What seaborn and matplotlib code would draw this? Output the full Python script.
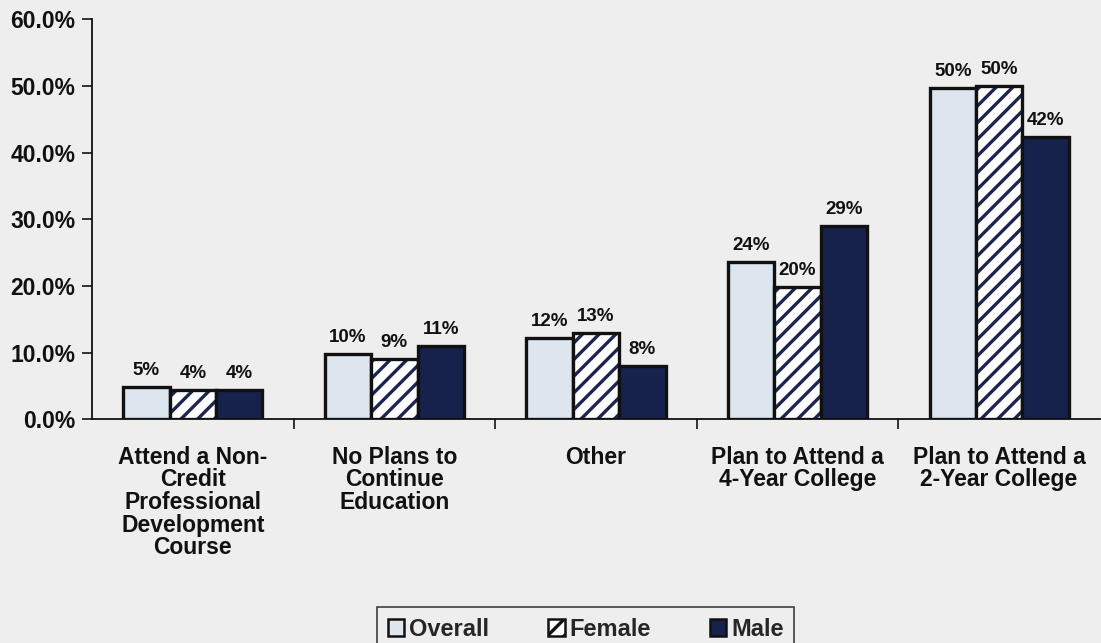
import matplotlib
matplotlib.use("Agg")
import matplotlib.pyplot as plt
import matplotlib.patches as mpatches
import matplotlib.colors as mcolors
from matplotlib.ticker import FuncFormatter, FixedLocator
import seaborn as sns
import pandas as pd

categories = ["Attend a Non-\nCredit\nProfessional\nDevelopment\nCourse",
              "No Plans to\nContinue\nEducation",
              "Other",
              "Plan to Attend a\n4-Year College",
              "Plan to Attend a\n2-Year College"]
series = ["Overall", "Female", "Male"]
overall = [4.8, 9.8, 12.2, 23.6, 49.7]
female = [4.4, 9.0, 12.9, 19.8, 50.0]
male = [4.4, 11.0, 8.0, 29.0, 42.3]
yticks = [0, 10, 20, 30, 40, 50, 60]

rows = []
for s, vals in zip(series, [overall, female, male]):
    for c, v in zip(categories, vals):
        rows.append({"cat": c, "series": s, "val": v})
df = pd.DataFrame(rows)

sns.set_theme(style="white")
plt.rcParams["font.family"] = ["Liberation Sans", "DejaVu Sans"]
plt.rcParams["font.weight"] = "bold"
plt.rcParams["hatch.linewidth"] = 2.4

navy = "#1b2550"
bg = "#eeeeee"
colors = {"Overall": "#dde6ef", "Female": "#ffffff", "Male": "#16224b"}

fig = plt.figure(figsize=(11.01, 6.43), dpi=100, facecolor=bg)
ax = fig.add_axes([0.0836, 0.348, 0.9154, 0.622])
ax.set_facecolor(bg)

sns.barplot(data=df, x="cat", y="val", hue="series", hue_order=series,
            palette=colors, width=0.69, ax=ax, legend=False,
            edgecolor="#111111", linewidth=2.4, saturation=1)

for cont, s in zip(ax.containers, series):
    for p in cont:
        if s == "Female":
            p.set_hatch("//")
            p._hatch_color = mcolors.to_rgba(navy)
    ax.bar_label(cont, labels=[f"{v:.0f}%" for v in cont.datavalues],
                 padding=6, fontsize=13.5, fontweight="bold", color="#111111")

ax.set_xlim(-0.5, 4.5)
ax.set_ylim(0, 60)
ax.set_yticks(yticks)
ax.yaxis.set_major_formatter(FuncFormatter(lambda v, p: f"{v:.1f}%"))
ax.set_xlabel("")
ax.set_ylabel("")
for sp in ["top", "right"]:
    ax.spines[sp].set_visible(False)
for sp in ["left", "bottom"]:
    ax.spines[sp].set_color("#111111")
    ax.spines[sp].set_linewidth(1.3)

ax.tick_params(axis="y", which="major", left=True, length=7, width=1.2,
               color="#111111", labelsize=16.5, labelcolor="#111111", pad=5)
ax.tick_params(axis="x", which="major", bottom=False, labelsize=16.5,
               labelcolor="#111111", pad=13)
ax.xaxis.set_minor_locator(FixedLocator([0.5, 1.5, 2.5, 3.5]))
ax.tick_params(axis="x", which="minor", bottom=True, length=7, width=1.2,
               color="#111111", direction="out")
for lab in ax.get_xticklabels() + ax.get_yticklabels():
    lab.set_fontweight("bold")
for lab in ax.get_xticklabels():
    lab.set_verticalalignment("top")
    lab.set_linespacing(0.98)

handles = []
for s in series:
    h = mpatches.Patch(facecolor=colors[s], edgecolor="#111111", linewidth=1.8,
                       hatch="//" if s == "Female" else None, label=s)
    handles.append(h)
leg = fig.legend(handles=handles, loc="upper center", bbox_to_anchor=(0.532, 0.056),
                 ncol=3, frameon=True, fancybox=False, fontsize=17,
                 handlelength=0.7, handleheight=0.7, handletextpad=0.2,
                 columnspacing=2.5, borderpad=0.45, borderaxespad=0)
leg.get_frame().set_edgecolor("#111111")
leg.get_frame().set_linewidth(1.2)
leg.get_frame().set_facecolor(bg)
for t in leg.get_texts():
    t.set_fontweight("bold")

fig.savefig("out.png", dpi=100, facecolor=bg)
